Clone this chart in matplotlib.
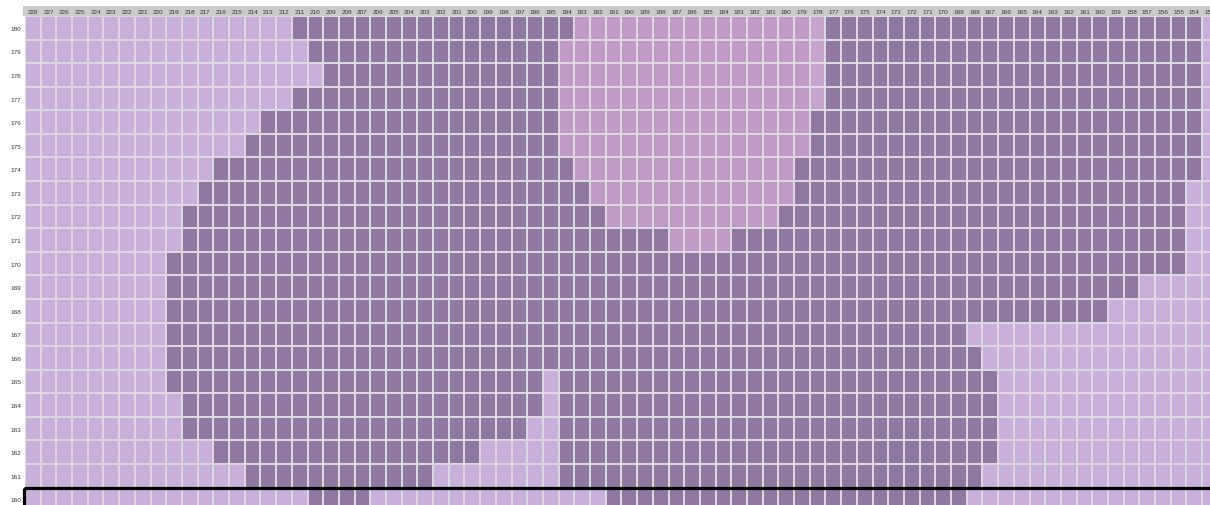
import matplotlib
matplotlib.use("Agg")
import matplotlib.pyplot as plt
import numpy as np
from matplotlib.colors import ListedColormap
from matplotlib.patches import Rectangle

plt.rcParams['font.family'] = ['Liberation Sans', 'DejaVu Sans']

# column labels (left to right) and row labels (top to bottom)
col_labels = list(range(228, 152, -1))
row_labels = list(range(180, 159, -1))

# cell states: L = light, D = dark, P = pink, Q = pale pink
state_codes = ['L', 'D', 'P', 'Q']
state_colors = ['#C9B0DA', '#8F79A1', '#BF9BC5', '#C6A5CC']

# runs per row as (first col label, last col label, state); the rest is L
runs = {
    180: [(211, 194, 'D'), (193, 179, 'P'), (178, 178, 'Q'), (177, 154, 'D')],
    179: [(210, 195, 'D'), (194, 179, 'P'), (178, 178, 'Q'), (177, 154, 'D')],
    178: [(209, 195, 'D'), (194, 179, 'P'), (178, 178, 'Q'), (177, 154, 'D')],
    177: [(211, 195, 'D'), (194, 179, 'P'), (178, 178, 'Q'), (177, 154, 'D')],
    176: [(213, 195, 'D'), (194, 179, 'P'), (178, 154, 'D')],
    175: [(214, 195, 'D'), (194, 179, 'P'), (178, 154, 'D')],
    174: [(216, 194, 'D'), (193, 180, 'P'), (179, 154, 'D')],
    173: [(217, 193, 'D'), (192, 180, 'P'), (179, 155, 'D')],
    172: [(218, 192, 'D'), (191, 181, 'P'), (180, 155, 'D')],
    171: [(218, 188, 'D'), (187, 184, 'P'), (183, 155, 'D')],
    170: [(219, 155, 'D')],
    169: [(219, 158, 'D')],
    168: [(219, 160, 'D')],
    167: [(219, 169, 'D')],
    166: [(219, 168, 'D')],
    165: [(219, 196, 'D'), (194, 167, 'D')],
    164: [(218, 196, 'D'), (194, 167, 'D')],
    163: [(218, 197, 'D'), (194, 167, 'D')],
    162: [(216, 200, 'D'), (194, 167, 'D')],
    161: [(214, 203, 'D'), (194, 168, 'D')],
    160: [(210, 207, 'D'), (191, 169, 'D')],
}
selected_row = 160

grid = np.zeros((len(row_labels), len(col_labels)), dtype=int)
for i, r in enumerate(row_labels):
    for a, b, s in runs[r]:
        for j, c in enumerate(col_labels):
            if b <= c <= a:
                grid[i, j] = state_codes.index(s)

W, H = 1210, 506
cw, rh = 15.7, 23.58
top = 17
left = 25

fig = plt.figure(figsize=(W / 100, H / 100), dpi=100)
fig.patch.set_facecolor('white')

# header band (behind the axes and its tick labels)
fig.patches.append(Rectangle((23 / W, 1 - top / H), 1, 10 / H,
                             transform=fig.transFigure, facecolor='#CBCBCB',
                             edgecolor='none', zorder=-1))

ax = fig.add_axes([left / W, 0, 1 - left / W, 1 - top / H])
ax.pcolormesh(np.arange(len(col_labels) + 1) - 0.5,
              np.arange(len(row_labels) + 1) - 0.5,
              grid, cmap=ListedColormap(state_colors), vmin=-0.5, vmax=3.5,
              edgecolors='#DDD8E0', linewidth=1.3)
ax.set_xlim(-0.5, -0.5 + (W - left) / cw)
ax.set_ylim(-0.5 + (H - top) / rh, -0.5)

ax.xaxis.tick_top()
ax.set_xticks(range(len(col_labels)))
ax.set_xticklabels([str(c) for c in col_labels], fontsize=4.6, color='#333333')
ax.set_yticks(range(len(row_labels)))
ax.set_yticklabels([str(r) for r in row_labels], fontsize=4.6, color='#333333')
ax.tick_params(axis='x', length=0, pad=1.2)
ax.tick_params(axis='y', length=0, pad=2.5)
for sp in ax.spines.values():
    sp.set_visible(False)

# selection box around the last row
ri = row_labels.index(selected_row)
ax.add_patch(Rectangle((-0.5 - 1 / cw, ri - 0.5), len(col_labels) + 2, 2,
                       fill=False, edgecolor='black', linewidth=2.3,
                       clip_on=False, zorder=5))

fig.savefig('out.png', dpi=100)
